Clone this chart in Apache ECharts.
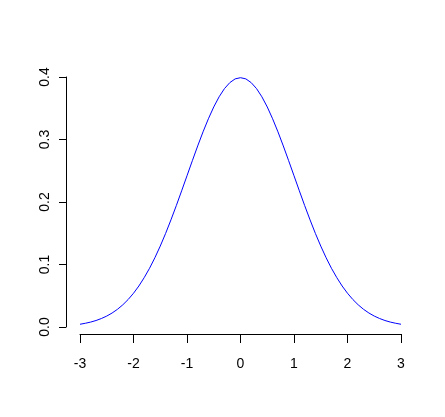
<!DOCTYPE html>
<html><head><meta charset="utf-8">
<script src="https://cdn.jsdelivr.net/npm/echarts@6/dist/echarts.min.js"></script>
<style>html,body{margin:0;padding:0;background:#fff}#c{width:445px;height:417px}</style>
</head><body><div id="c"></div>
<script>
var xs = [-3.0,-2.9,-2.8,-2.7,-2.6,-2.5,-2.4,-2.3,-2.2,-2.1,-2.0,-1.9,-1.8,-1.7,-1.6,-1.5,-1.4,-1.3,-1.2,-1.1,-1.0,-0.9,-0.8,-0.7,-0.6,-0.5,-0.4,-0.3,-0.2,-0.1,0.0,0.1,0.2,0.3,0.4,0.5,0.6,0.7,0.8,0.9,1.0,1.1,1.2,1.3,1.4,1.5,1.6,1.7,1.8,1.9,2.0,2.1,2.2,2.3,2.4,2.5,2.6,2.7,2.8,2.9,3.0];
var ys = [0.0044,0.0060,0.0079,0.0104,0.0136,0.0175,0.0224,0.0283,0.0355,0.0440,0.0540,0.0656,0.0790,0.0940,0.1109,0.1295,0.1497,0.1714,0.1942,0.2179,0.2420,0.2661,0.2897,0.3123,0.3332,0.3521,0.3683,0.3814,0.3910,0.3970,0.3989,0.3970,0.3910,0.3814,0.3683,0.3521,0.3332,0.3123,0.2897,0.2661,0.2420,0.2179,0.1942,0.1714,0.1497,0.1295,0.1109,0.0940,0.0790,0.0656,0.0540,0.0440,0.0355,0.0283,0.0224,0.0175,0.0136,0.0104,0.0079,0.0060,0.0044];
var xTicks = [-3,-2,-1,0,1,2,3];
var yTicks = [0,0.1,0.2,0.3,0.4];
var pts = xs.map(function(x,i){return [x, ys[i]];});
var chart = echarts.init(document.getElementById('c'), null, {renderer:'canvas'});
chart.setOption({
  animation:false,
  grid:{left:80,right:44,top:77,bottom:90,containLabel:false},
  xAxis:{type:'value',min:-3,max:3,interval:1,offset:7,
    axisLine:{show:true,onZero:false,lineStyle:{color:'#000',width:1}},
    axisTick:{show:true,length:9,inside:false,lineStyle:{color:'#000'}},
    axisLabel:{color:'#000',fontSize:14,fontFamily:'Liberation Sans, Arial',margin:23,
      formatter:function(v){return xTicks.indexOf(v)>=0?String(v):'';}},
    splitLine:{show:false}},
  yAxis:{type:'value',min:0,max:0.4,interval:0.1,offset:14,
    axisLine:{show:true,onZero:false,lineStyle:{color:'#000',width:1}},
    axisTick:{show:true,length:7,inside:false,lineStyle:{color:'#000'}},
    axisLabel:{color:'#000',fontSize:14,fontFamily:'Liberation Sans, Arial',margin:14,rotate:90,
      formatter:function(v){return v.toFixed(1);}},
    splitLine:{show:false}},
  series:[{type:'line',data:pts,showSymbol:false,smooth:false,
    lineStyle:{color:'#0000ff',width:1}}]
});
</script></body></html>
